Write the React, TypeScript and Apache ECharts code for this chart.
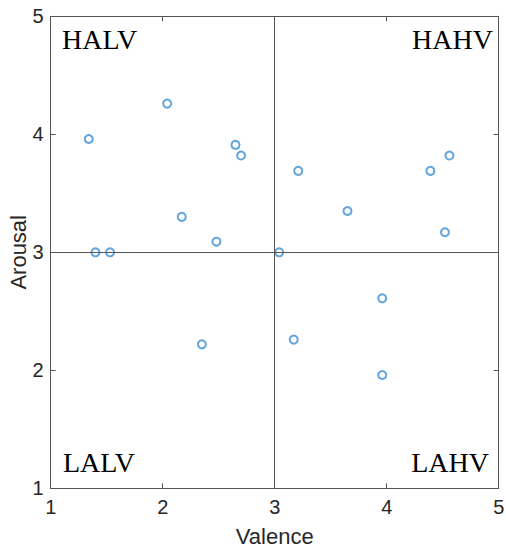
import React, { useEffect, useRef } from "react";
import * as echarts from "echarts";

const valence = [1.34, 1.40, 1.53, 2.04, 2.17, 2.48, 2.65, 2.70, 3.04, 3.21, 3.65, 4.39, 4.56, 4.52, 2.35, 3.96, 3.17, 3.96];
const arousal = [3.96, 3.0, 3.0, 4.26, 3.30, 3.09, 3.91, 3.82, 3.0, 3.69, 3.35, 3.69, 3.82, 3.17, 2.22, 2.61, 2.26, 1.96];
const quadrantLabels = ["HALV", "HAHV", "LALV", "LAHV"];
const axisMin = 1;
const axisMax = 5;
const midValue = 3;

export default function App() {
  const ref = useRef<HTMLDivElement>(null);
  useEffect(() => {
    if (!ref.current) return;
    const chart = echarts.init(ref.current, null, { renderer: "svg" });
    const lineColor = "#555555";
    const textColor = "#262626";
    const font = "'Liberation Sans', Arial, sans-serif";
    const serif = "'Liberation Serif', 'Times New Roman', serif";
    const data = valence.map((v, i) => [v, arousal[i]]);
    const baseAxis = {
      type: "value" as const,
      min: axisMin,
      max: axisMax,
      interval: 1,
      splitLine: { show: false },
      axisLine: { show: true, lineStyle: { color: lineColor, width: 1 } },
      axisTick: { show: true, inside: true, length: 5, lineStyle: { color: lineColor } },
    };
    chart.setOption({
      animation: false,
      grid: { left: 50.7, right: 7.3, top: 16.3, bottom: 59.7, containLabel: false, outerBoundsMode: "none" },
      xAxis: [
        {
          ...baseAxis,
          position: "bottom",
          name: "Valence",
          nameLocation: "middle",
          nameGap: 37,
          nameMoveOverlap: false,
          nameTextStyle: { fontFamily: font, fontSize: 22, color: textColor },
          axisLabel: { fontFamily: font, fontSize: 20, color: textColor, margin: 9 },
        },
        { ...baseAxis, position: "top", axisLabel: { show: false } },
      ],
      yAxis: [
        {
          ...baseAxis,
          position: "left",
          name: "Arousal",
          nameLocation: "middle",
          nameGap: 21,
          nameMoveOverlap: false,
          nameTextStyle: { fontFamily: font, fontSize: 22, color: textColor },
          axisLabel: { fontFamily: font, fontSize: 20, color: textColor, margin: 7 },
        },
        { ...baseAxis, position: "right", axisLabel: { show: false } },
      ],
      series: [
        {
          type: "scatter",
          xAxisIndex: 0,
          yAxisIndex: 0,
          data,
          symbol: "emptyCircle",
          symbolSize: 8,
          itemStyle: { color: "#3b8fd3", borderWidth: 0.9 },
          markLine: {
            silent: true,
            symbol: "none",
            label: { show: false },
            lineStyle: { color: lineColor, width: 1, type: "solid" },
            data: [{ xAxis: midValue }, { yAxis: midValue }],
          },
          z: 3,
        },
      ],
      graphic: [
        { type: "text", left: 62, top: 25, style: { text: quadrantLabels[0], font: `28px ${serif}`, fill: "#000" } },
        { type: "text", right: 13, top: 25, style: { text: quadrantLabels[1], font: `28px ${serif}`, fill: "#000" } },
        { type: "text", left: 63, top: 448, style: { text: quadrantLabels[2], font: `28px ${serif}`, fill: "#000" } },
        { type: "text", right: 17, top: 448, style: { text: quadrantLabels[3], font: `28px ${serif}`, fill: "#000" } },
      ],
    });
    return () => chart.dispose();
  }, []);
  return <div ref={ref} style={{ width: 506, height: 548, position: "absolute", left: 0, top: 0, background: "#fff" }} />;
}
